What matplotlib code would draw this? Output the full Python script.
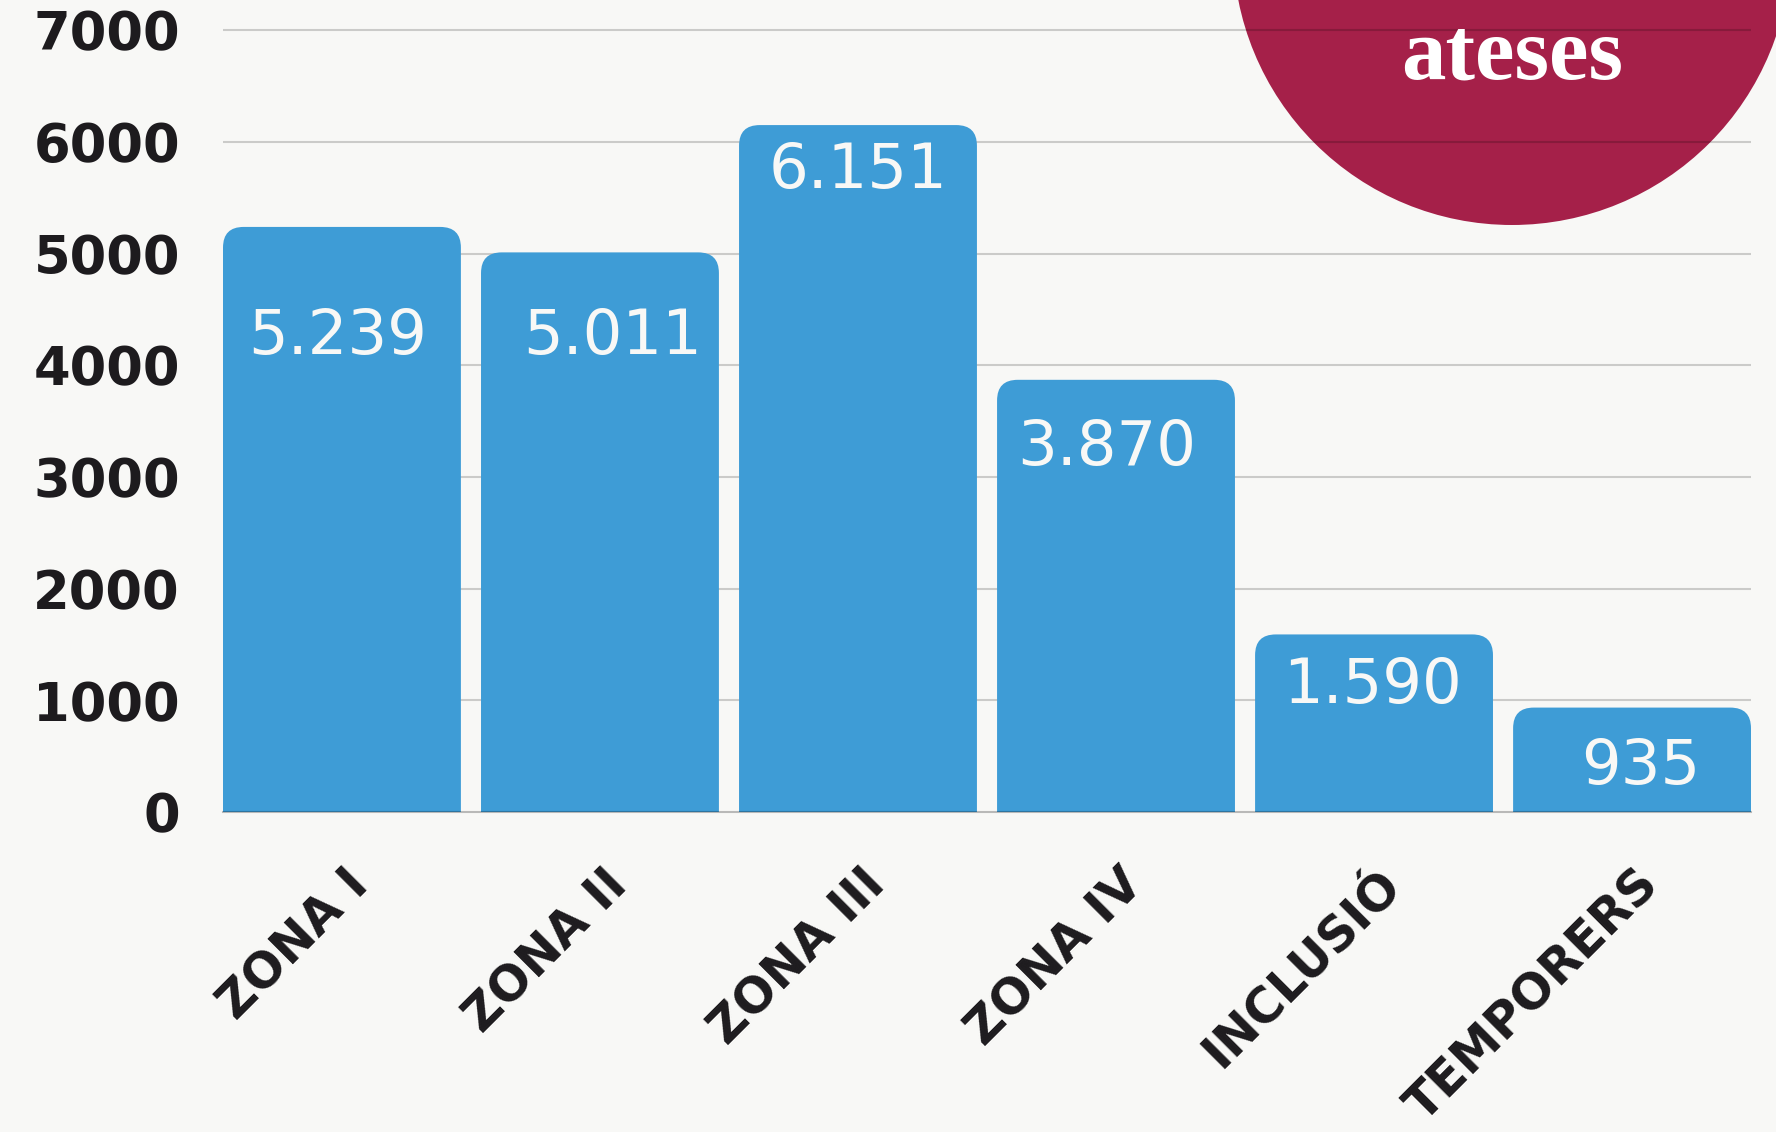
import matplotlib.pyplot as plt
from matplotlib.patches import FancyBboxPatch, Ellipse

# Data
categories = ["ZONA I", "ZONA II", "ZONA III", "ZONA IV", "INCLUSIÓ", "TEMPORERS"]
values = [5239, 5011, 6151, 3870, 1590, 935]
value_labels = ["5.239", "5.011", "6.151", "3.870", "1.590", "935"]
y_ticks = [0, 1000, 2000, 3000, 4000, 5000, 6000, 7000]

# label placement inside the bars (offset from bar top, in points)
label_dx = [-3, 9, 0, -7, -1, 6]
label_dy = [-79, -61, -33, -49, -37, -43]

bg = "#f8f8f6"
blue = "#3e9cd6"
dark = "#1d1b1e"
crimson = "#a52049"


def main():
    fig = plt.figure(figsize=(17.76, 11.32), dpi=100, facecolor=bg)
    ax = fig.add_axes([223 / 1776, 1 - 812 / 1132, 1528 / 1776, 812 / 1132])
    ax.set_facecolor(bg)

    x = list(range(len(categories)))
    width = 0.922
    ax.set_xlim(-width / 2, len(categories) - 1 + width / 2)
    ax.set_ylim(0, 7271)

    # plain bars first, then swap them for rounded-top patches
    bars = ax.bar(x, values, width=width, color=blue, zorder=2)
    aspect = (7271 / 812) / ((len(categories) - 1 + width) / 1528)
    for rect in bars:
        rect.set_visible(False)
        p = FancyBboxPatch(
            (rect.get_x(), -400), rect.get_width(), rect.get_height() + 400,
            boxstyle="round,pad=0,rounding_size=0.08",
            mutation_aspect=aspect, facecolor=blue, edgecolor="none", zorder=2)
        ax.add_patch(p)

    # gridlines
    for yv in y_ticks[1:]:
        ax.axhline(yv, color="black", alpha=0.18, lw=1.5, zorder=1)

    for sp in ["top", "right", "left"]:
        ax.spines[sp].set_visible(False)
    ax.spines["bottom"].set_color((0, 0, 0, 0.25))
    ax.spines["bottom"].set_linewidth(1.5)

    ax.set_yticks(y_ticks)
    ax.set_yticklabels([str(v) for v in y_ticks], fontsize=38,
                       fontweight="bold", color=dark, family="DejaVu Sans")
    ax.tick_params(axis="y", length=0, pad=31)
    ax.set_xticks([])

    # category labels, rotated
    for i, cat in enumerate(categories):
        ax.annotate(cat, xy=(i, 0), xycoords=("data", "axes fraction"),
                    xytext=(14, -47), textcoords="offset points",
                    rotation=45, rotation_mode="anchor", ha="right", va="center",
                    fontsize=35, fontweight="bold", color=dark,
                    annotation_clip=False)

    # value labels
    for i, (v, lab) in enumerate(zip(values, value_labels)):
        ax.annotate(lab, xy=(i, v), xytext=(label_dx[i], label_dy[i]),
                    textcoords="offset points", ha="center", va="center",
                    fontsize=45, color=bg, zorder=3)

    # crimson circle at the top right
    circ = Ellipse((1512 / 1776, 1 + 54 / 1132), 2 * 279 / 1776, 2 * 279 / 1132,
                   transform=fig.transFigure, facecolor=crimson,
                   edgecolor="none", zorder=0.5, clip_on=False)
    ax.add_patch(circ)
    fig.text(1512 / 1776, 1 - 79 / 1132, "ateses", ha="center", va="baseline",
             fontsize=64, fontweight="bold", color="white",
             family="Liberation Serif")

    fig.savefig("out.png", dpi=100, facecolor=bg)
    plt.close(fig)


if __name__ == "__main__":
    main()
